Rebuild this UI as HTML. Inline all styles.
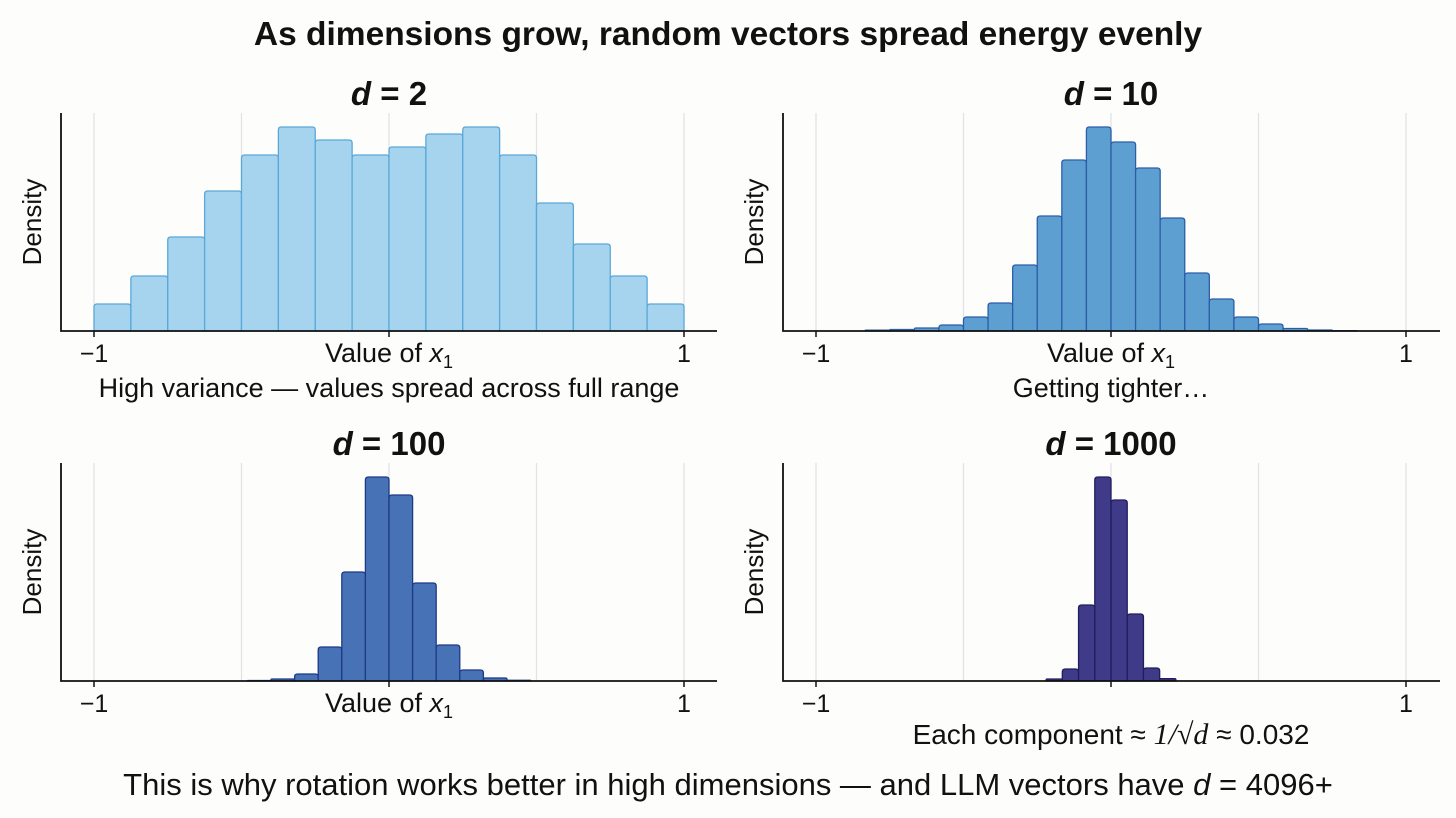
<!DOCTYPE html>
<html><head><meta charset="utf-8">
<style>
html,body{margin:0;padding:0;background:#fdfdfb;}
svg text{font-family:"Liberation Sans",sans-serif;fill:#111;}
</style></head>
<body>
<svg id="chart" width="1456" height="813" viewBox="0 0 1456 813" xmlns="http://www.w3.org/2000/svg">
<rect width="1456" height="813" fill="#fdfdfb"/>
<text x="728" y="45" text-anchor="middle" font-size="33.5" font-weight="bold">As dimensions grow, random vectors spread energy evenly</text>
<text x="728" y="795" text-anchor="middle" font-size="31">This is why rotation works better in high dimensions — and LLM vectors have <tspan font-style="italic">d</tspan> = 4096+</text>
</svg>
<script>
// panel data (densities in plot units, max ~204 of 218)
const d2Start = -1, d2Width = 0.125;
const d2Values = [27,55,94,140,176,204,191,176,184,197,204,176,128,87,55,27];
const d10Start = -1, d10Width = 1/12;
const d10Values = [0,0,0.8,1.5,3,6,14,28,66,115,171,204,189,163,113,58,32,14,7,2.5,1,0.3,0,0];
const d100Start = -0.48, d100Width = 0.08;
const d100Values = [0.5,2,7,34,109,204,186,98,36,11,3,0.7];
const d1000Start = -0.22, d1000Width = 0.055;
const d1000Values = [2,12,76,204,181,67,13,2.3];
const xTicks = [-1, 0, 1];
const xTickLabels = ['−1', '', '1'];
const gridVals = [-1, -0.5, 0, 0.5, 1];

const panels = [
 {name:'d2', title:'2', start:d2Start, w:d2Width, vals:d2Values, L:61, R:717, T:113, B:331, fill:'#a6d4ee', stroke:'#5aa8d8', xlab:true, cap:'High variance — values spread across full range'},
 {name:'d10', title:'10', start:d10Start, w:d10Width, vals:d10Values, L:783, R:1440, T:113, B:331, fill:'#5e9fd2', stroke:'#2c5ea8', xlab:true, cap:'Getting tighter…'},
 {name:'d100', title:'100', start:d100Start, w:d100Width, vals:d100Values, L:61, R:717, T:463, B:681, fill:'#4773b6', stroke:'#1e3a86', xlab:true, cap:null},
 {name:'d1000', title:'1000', start:d1000Start, w:d1000Width, vals:d1000Values, L:783, R:1440, T:463, B:681, fill:'#3f3b88', stroke:'#221d5c', xlab:false, cap:'each'}
];
const NS = 'http://www.w3.org/2000/svg';
const svg = document.getElementById('chart');
function mk(tag, attrs, parent){const e=document.createElementNS(NS,tag);for(const k in attrs)e.setAttribute(k,attrs[k]);(parent||svg).appendChild(e);return e;}

panels.forEach(p=>{
  const g = mk('g',{});
  
  
  const x0 = p.L + 33, x1 = p.L + 623;
  const xs = v => x0 + (v + 1) / 2 * (x1 - x0);
  const ys = v => p.B - v / 218 * (p.B - p.T);
  gridVals.forEach(v=>{
    const l = mk('line',{x1:xs(v),x2:xs(v),y1:p.T,y2:p.B,stroke:'#e2e2e6','stroke-width':1.2},g);
    
    
  });
  p.vals.forEach((v,i)=>{
    if (v <= 0) return;
    const a = xs(p.start + i*p.w), b = xs(p.start + (i+1)*p.w);
    const y = ys(v), h = p.B - y, r = Math.min(3, h/2);
    const path = `M${a},${p.B} L${a},${y+r} Q${a},${y} ${a+r},${y} L${b-r},${y} Q${b},${y} ${b},${y+r} L${b},${p.B} Z`;
    const e = mk('path',{d:path,fill:p.fill,stroke:p.stroke,'stroke-width':1.3},g);
    
    
  });
  const ax = mk('path',{d:`M${p.L},${p.T} L${p.L},${p.B} L${p.R},${p.B}`,fill:'none',stroke:'#111','stroke-width':1.8},g);
  
  
  xTicks.forEach((v,i)=>{
    const t = mk('line',{x1:xs(v),x2:xs(v),y1:p.B,y2:p.B+6,stroke:'#111','stroke-width':1.5},g);
    
    
    if (xTickLabels[i]) {
      const tl = mk('text',{x:xs(v),y:p.B+31,'text-anchor':'middle','font-size':25},g);
      tl.textContent = xTickLabels[i];
      
      
    }
  });
  const yl = mk('text',{x:0,y:0,'text-anchor':'middle','font-size':26,transform:`translate(${p.L-20},${(p.T+p.B)/2}) rotate(-90)`},g);
  yl.textContent = 'Density';
  
  
  const tt = mk('text',{x:xs(0),y:p.T-8,'text-anchor':'middle','font-size':33,'font-weight':'bold'},g);
  tt.innerHTML = '<tspan font-style="italic">d</tspan> = ' + p.title;
  
  
  if (p.xlab) {
    const xl = mk('text',{x:xs(0),y:p.B+31,'text-anchor':'middle','font-size':27},g);
    xl.innerHTML = 'Value of <tspan font-style="italic">x</tspan><tspan font-size="18" dy="6">1</tspan>';
    
    
  }
  if (p.cap) {
    const c = mk('text',{x:xs(0),y:p.B + (p.cap==='each'?63:66),'text-anchor':'middle','font-size':p.cap==='each'?28:27},g);
    if (p.cap==='each') c.innerHTML = 'Each component ≈ <tspan font-family="Liberation Serif" font-style="italic" font-size="30">1/√d</tspan> ≈ 0.032';
    else c.textContent = p.cap;
    
    
  }
});
</script>
</body></html>
